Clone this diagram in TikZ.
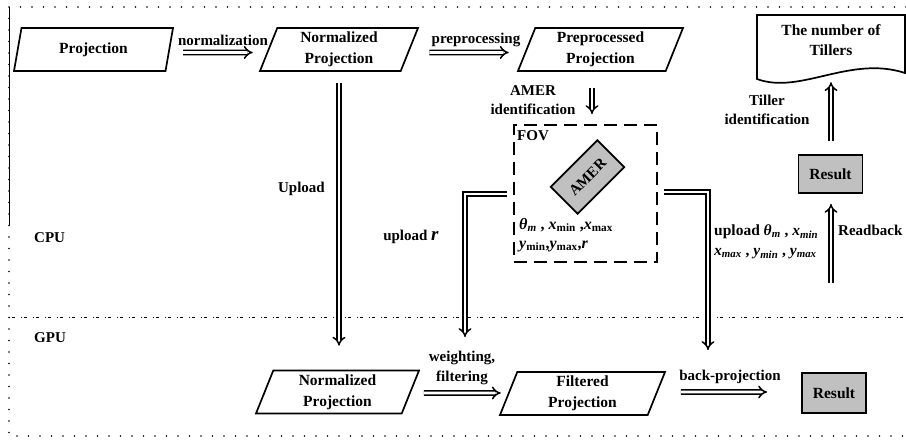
\documentclass[tikz,border=0pt]{standalone}
\usepackage{fontspec}
\setmainfont{Liberation Serif}
\usetikzlibrary{shapes.geometric,arrows.meta,calc}
\definecolor{boxgray}{RGB}{192,192,192}
\newcommand\pvi[2]{\textit{#1}\textsubscript{\textit{#2}}}
\newcommand\pvu[2]{\textit{#1}\textsubscript{#2}}
\begin{document}
\begin{tikzpicture}[x=1pt,y=-1pt,
  every node/.style={font=\fontsize{15}{20}\selectfont\bfseries, inner sep=1pt},
  para/.style={trapezium, trapezium left angle=65, trapezium right angle=115,
    trapezium stretches body, draw, line width=1.7pt, minimum height=43pt,
    align=center, font=\fontsize{15.5}{21}\selectfont\bfseries},
  resbox/.style={draw, line width=1.9pt, fill=boxgray, minimum width=64pt, minimum height=38pt,
    font=\fontsize{15.5}{20}\selectfont\bfseries},
  dbl/.style={draw, double, double distance=2.8pt, line width=1.5pt, -{Implies[scale=1.3]}},
  lbl/.style={align=center},
  dotline/.style={line width=1.8pt, line cap=round, dash pattern=on 0pt off 11.5pt},
  divline/.style={line width=1pt, dash pattern=on 1pt off 2pt on 2.5pt off 6.5pt},
  fovbox/.style={draw, line width=1.8pt, dash pattern=on 13pt off 7pt, minimum width=143pt, minimum height=137pt}
]
\useasboundingbox (0,0) rectangle (906,443);
% frame
\draw[dotline] (906,7) -- (9,7) -- (9,436) -- (906,436);
\draw[line width=0.6pt] (9,7) -- (9,225);
\draw[divline] (9,318) -- (906,318);
\node[anchor=west] (cpu) at (33,238) {CPU};
\node[anchor=west] (gpu) at (33,338) {GPU};

% CPU row
\node[para, minimum width=159pt] (P1) at (93.5,49.5) {Projection};
\node[para, minimum width=158pt] (NP1) at (339,49.5) {Normalized\\Projection};
\node[para, minimum width=165pt] (PP) at (600.5,49.5) {Preprocessed\\Projection};

% document
\node[minimum width=148pt, minimum height=65pt] (doc) at (831,47.5) {};
\draw[line width=1.7pt] (757,15) -- (905,15) -- (905,73)
  .. controls (850,55) and (800,95) .. (757,79) -- cycle;
\node[lbl, font=\fontsize{15.5}{20}\selectfont\bfseries] (doct) at (831,40) {The number of\\Tillers};

% FOV
\node[fovbox] (FOV) at (585.5,193.5) {};
\node[anchor=west] (fovl) at (516,136) {FOV};
\node[draw, line width=1.7pt, fill=boxgray, minimum width=66pt, minimum height=38pt, rotate=45,
  font=\fontsize{15}{16}\selectfont\bfseries] (AMER) at (587.5,177) {AMER};
\node[anchor=west, font=\fontsize{16}{20}\selectfont\bfseries] (par1) at (518,225)
  {\textit{θ}\textsubscript{\textit{m}} , \pvu{x}{min} ,\pvu{x}{max}};
\node[anchor=west, font=\fontsize{16}{20}\selectfont\bfseries] (par2) at (518,246)
  {\pvu{y}{min},\pvu{y}{max},\textit{r}};

% results
\node[resbox] (R1) at (830.5,174) {Result};
\node[resbox, minimum height=40pt] (R2) at (834,393) {Result};

% GPU row
\node[para, minimum width=163pt] (NP2) at (337.5,392) {Normalized\\Projection};
\node[para, minimum width=165pt] (FP) at (582.5,393.5) {Filtered\\Projection};

% connectors
\draw[dbl] ($(P1.east)+(13,3)$) -- ($(NP1.west)+(-15,3)$);
\node (l1) at (223,40) {normalization};
\draw[dbl] ($(NP1.east)+(19,3)$) -- ($(PP.west)+(-17,3)$);
\node (l2) at (476,40) {preprocessing};

\coordinate (a3s) at ($(PP.center |- PP.south)+(-8.5,16)$);
\draw[dbl, shorten >=10pt] (a3s) -- (a3s |- FOV.north);
\node[lbl, font=\fontsize{15}{19}\selectfont\bfseries] (l3) at (533,100) {AMER\\identification};

\draw[dbl] ($(NP1.center |- NP1.south)+(0,11)$) -- ($(NP1.center |- NP2.north)+(0,-24)$);
\node (l4) at (301.5,189) {Upload};

\coordinate (a5e) at (465,337);
\draw[dbl] ($(FOV.west)+(-6,0.5)$) -| (a5e);
\node (l5) at (411,237) {upload {\fontsize{19}{20}\selectfont\textit{r}}};

\coordinate (a6e) at (708,350);
\draw[dbl] ($(FOV.east)+(6,-1.5)$) -| (a6e);
\node[anchor=west, align=left, font=\fontsize{15.5}{20}\selectfont\bfseries] (l6) at (713,242)
  {upload \textit{θ}\textsubscript{\textit{m}} , \pvi{x}{min}\\\pvi{x}{max} , \pvi{y}{min} , \pvi{y}{max}};

\draw[dbl] ($(NP2.east)+(12.5,1)$) -- ($(FP.west)+(-7,-0.5)$);
\node[lbl] (l7) at (462,368) {weighting,\\filtering};

\draw[dbl] ($(FP.east)+(23.5,-1.5)$) -- ($(R2.west)+(-34,-1)$);
\node (l8) at (730,377) {back-projection};

\coordinate (rb) at (831,283);
\draw[dbl] (rb) -- ($(R1.south)+(0.5,10)$);
\node[anchor=west] (l9) at (837,230) {Readback};

\draw[dbl, shorten >=2pt] ($(R1.north)+(0.5,-13)$) -- (doc.south);
\node[lbl, font=\fontsize{15}{19}\selectfont\bfseries] (l10) at (767,110) {Tiller\\identification};
\end{tikzpicture}
\end{document}
